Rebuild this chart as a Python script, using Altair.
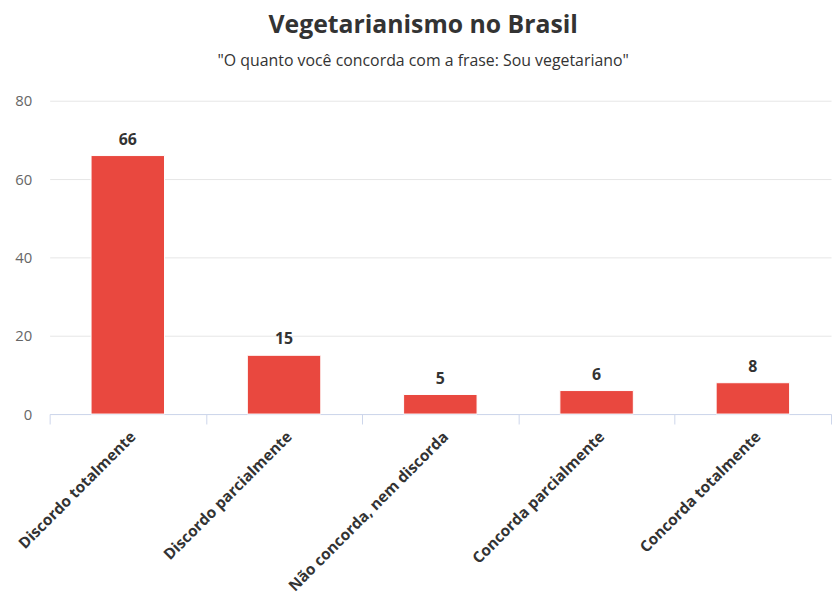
import altair as alt
import pandas as pd

categories = ["Discordo totalmente", "Discordo parcialmente", "Não concorda, nem discorda",
              "Concorda parcialmente", "Concorda totalmente"]
values = [66, 15, 5, 6, 8]

df = pd.DataFrame({"cat": categories, "val": values})

x = alt.X("cat:N", sort=categories, title=None,
          scale=alt.Scale(paddingInner=0, paddingOuter=0),
          axis=alt.Axis(labelAngle=-45, labelFont="Open Sans", labelFontSize=15.5,
                        labelFontWeight="bold", labelColor="#333333", labelLimit=400,
                        domainColor="#ccd6eb", tickColor="#ccd6eb", tickSize=10,
                        tickBand="extent", labelPadding=5, labelAlign="right",
                        labelBaseline="top"))
y = alt.Y("val:Q", title=None,
          scale=alt.Scale(domain=[0, 80]),
          axis=alt.Axis(values=[0, 20, 40, 60, 80], grid=True, gridColor="#e6e6e6",
                        domain=False, ticks=False, labelFont="Open Sans",
                        labelFontSize=15, labelColor="#666666", labelPadding=18))

bars = alt.Chart(df).mark_bar(color="#e9483f", width={"band": 0.47},
                              stroke="white", strokeWidth=1).encode(x=x, y=y)
labels = alt.Chart(df).mark_text(dy=-8, font="Open Sans", fontSize=16,
                                 fontWeight="bold", color="#333333",
                                 baseline="bottom").encode(
    x=alt.X("cat:N", sort=categories), y="val:Q", text="val:Q")

chart = (bars + labels).properties(
    width=788, height=316,
    padding={"left": 6, "top": 3, "right": 0, "bottom": 2},
    title=alt.TitleParams(
        "Vegetarianismo no Brasil",
        subtitle='"O quanto você concorda com a frase: Sou vegetariano"',
        font="Open Sans", fontSize=25, fontWeight="bold", color="#333333",
        subtitleFont="Open Sans", subtitleFontSize=16, subtitleColor="#333333",
        subtitlePadding=15, anchor="middle", frame="bounds", offset=25),
).configure_view(stroke=None)

chart.save("out.html", embed_options={"renderer": "svg", "actions": False})
